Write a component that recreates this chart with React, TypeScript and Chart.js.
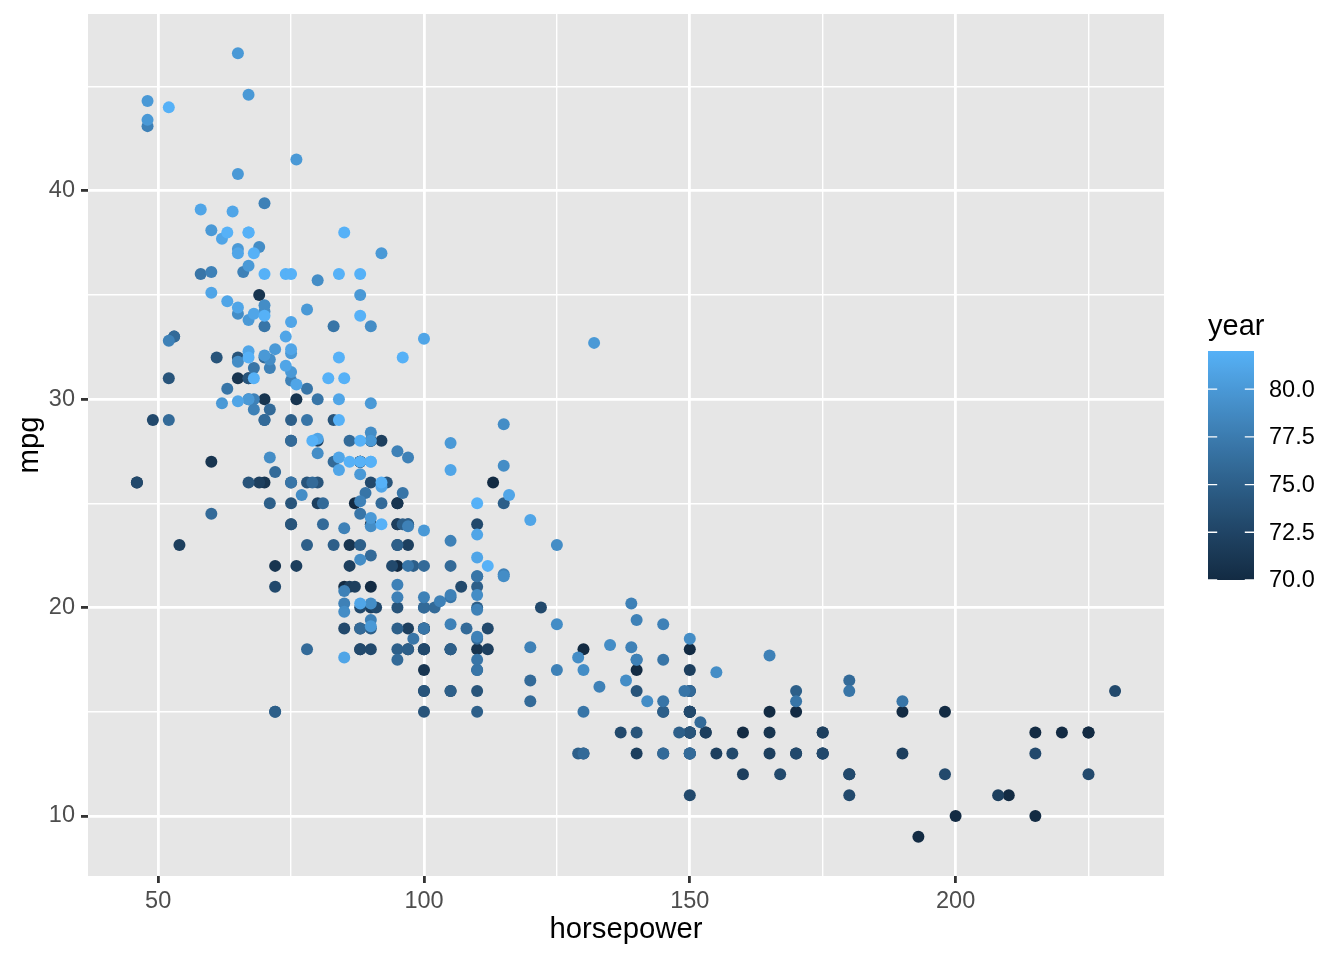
import React, { useEffect, useRef } from "react";
import { Chart, registerables } from "chart.js";

Chart.register(...registerables);

// ---- data: horsepower / mpg per model year ----
const hp70 = [130, 165, 150, 150, 140, 198, 220, 215, 225, 190, 170, 160, 150, 225, 95, 95, 97, 85, 88, 46, 87, 90, 95, 113, 90, 215, 200, 210, 193];
const mpg70 = [18, 15, 18, 16, 17, 15, 14, 14, 14, 15, 15, 14, 15, 14, 24, 22, 18, 21, 27, 26, 25, 24, 25, 26, 21, 10, 10, 11, 9];
const hp71 = [88, 90, 95, 100, 105, 100, 88, 100, 165, 175, 153, 150, 180, 170, 175, 110, 72, 100, 88, 86, 90, 70, 76, 65, 69, 60, 70];
const mpg71 = [27, 28, 25, 19, 16, 17, 19, 18, 14, 14, 14, 14, 12, 13, 13, 18, 22, 19, 18, 23, 28, 30, 30, 31, 35, 27, 26];
const hp72 = [95, 80, 54, 90, 86, 165, 175, 150, 153, 150, 208, 155, 160, 190, 97, 150, 130, 140, 150, 112, 76, 87, 69, 86, 92, 97, 80, 88];
const mpg72 = [24, 25, 23, 20, 21, 13, 14, 15, 14, 17, 11, 13, 12, 13, 19, 15, 13, 13, 14, 18, 22, 21, 26, 22, 28, 23, 28, 27];
const hp73 = [175, 150, 145, 137, 150, 198, 150, 158, 150, 215, 225, 175, 105, 100, 100, 88, 95, 46, 150, 167, 170, 180, 100, 88, 72, 94, 90, 85, 107, 90, 145, 230, 49, 75, 91, 112, 150, 110, 122, 180];
const mpg73 = [13, 14, 13, 14, 15, 12, 13, 13, 14, 13, 12, 13, 18, 16, 18, 18, 23, 26, 11, 12, 13, 12, 18, 20, 21, 22, 18, 19, 21, 26, 15, 16, 29, 24, 20, 19, 15, 24, 20, 11];
const hp74 = [95, 100, 100, 67, 80, 65, 75, 100, 110, 105, 140, 150, 150, 140, 150, 83, 67, 78, 52, 61, 75, 75, 75, 97, 93, 67];
const mpg74 = [20, 19, 15, 31, 26, 32, 25, 16, 16, 18, 16, 13, 14, 14, 14, 29, 26, 26, 31, 32, 28, 24, 26, 24, 26, 31];
const hp75 = [95, 105, 72, 72, 170, 145, 150, 148, 110, 105, 110, 95, 110, 110, 129, 75, 83, 100, 78, 96, 71, 97, 97, 70, 90, 95, 88, 98, 115, 53];
const mpg75 = [19, 18, 15, 15, 16, 15, 16, 14, 17, 16, 15, 18, 21, 20, 13, 29, 23, 20, 23, 24, 25, 24, 18, 29, 19, 23, 23, 22, 25, 33];
const hp76 = [100, 105, 81, 90, 52, 60, 70, 53, 100, 78, 110, 95, 71, 70, 75, 72, 102, 150, 88, 108, 120, 180, 145, 130, 150, 140, 150, 120, 152, 86, 81, 92, 79, 83];
const mpg76 = [22, 22, 24, 22.5, 29, 24.5, 29, 33, 20, 18, 18.5, 17.5, 29.5, 32, 28, 26.5, 20, 13, 19, 19, 16.5, 16.5, 13, 13, 13, 17.5, 16, 15.5, 14.5, 28, 25, 25, 26, 27];
const hp77 = [68, 80, 58, 96, 70, 145, 110, 145, 130, 110, 105, 100, 98, 180, 170, 190, 149, 78, 88, 75, 89, 63, 83, 67, 78, 97, 110, 110];
const mpg77 = [31.5, 30, 36, 25.5, 33.5, 17.5, 17, 15.5, 15, 17.5, 20.5, 19, 18.5, 16, 15.5, 15.5, 16, 29, 24.5, 26, 25.5, 30.5, 33.5, 30, 30.5, 22, 21.5, 21.5];
const hp78 = [48, 66, 52, 70, 60, 110, 140, 139, 105, 95, 85, 88, 100, 90, 105, 85, 110, 120, 145, 165, 139, 140, 68, 95, 97, 75, 95, 105, 85, 97, 103, 125, 115, 133, 71, 68];
const mpg78 = [43.1, 36.1, 32.8, 39.4, 36.1, 19.9, 19.4, 20.2, 19.2, 20.5, 20.2, 25.1, 20.5, 19.4, 20.6, 20.8, 18.6, 18.1, 19.2, 17.7, 18.1, 17.5, 30, 27.5, 27.2, 30.9, 21.1, 23.2, 23.8, 23.9, 20.3, 17, 21.6, 16.2, 31.5, 29.5];
const hp79 = [115, 85, 88, 90, 110, 130, 129, 138, 135, 155, 142, 125, 150, 71, 65, 80, 80, 77, 125, 71, 90, 70, 70, 65, 69, 90, 115, 115, 90];
const mpg79 = [21.5, 19.8, 22.3, 20.2, 20.6, 17, 17.6, 16.5, 18.2, 16.9, 15.5, 19.2, 18.5, 31.9, 34.1, 35.7, 27.4, 25.4, 23, 27.2, 23.9, 34.2, 34.5, 31.8, 37.3, 28.4, 28.8, 26.8, 33.5];
const hp80 = [76, 60, 70, 65, 90, 88, 90, 90, 78, 90, 75, 92, 75, 65, 105, 65, 48, 48, 67, 67, 67, 67, 62, 132, 100, 88, 72];
const mpg80 = [41.5, 38.1, 32.1, 37.2, 28, 26.4, 24.3, 19.1, 34.3, 29.8, 31.3, 37, 32.2, 46.6, 27.9, 40.8, 44.3, 43.4, 36.4, 30, 44.6, 33.8, 29.8, 32.7, 23.7, 35, 32.4];
const hp81 = [84, 84, 92, 110, 84, 58, 64, 60, 67, 65, 62, 68, 63, 65, 65, 74, 75, 75, 100, 74, 80, 76, 116, 120, 110, 105, 88, 85];
const mpg81 = [27.2, 26.6, 25.8, 23.5, 30, 39.1, 39, 35.1, 32.3, 37, 37.7, 34.1, 34.7, 34.4, 29.9, 33, 33.7, 32.4, 32.9, 31.6, 28.1, 30.7, 25.4, 24.2, 22.4, 26.6, 20.2, 17.6];
const hp82 = [88, 88, 88, 85, 84, 90, 92, 74, 68, 68, 63, 70, 88, 75, 70, 67, 67, 67, 110, 85, 92, 112, 96, 84, 90, 86, 52, 84, 79, 82];
const mpg82 = [28, 27, 34, 31, 29, 27, 24, 36, 37, 31, 38, 36, 36, 36, 34, 38, 32, 38, 25, 38, 26, 22, 32, 36, 27, 27, 44, 32, 28, 31];

const modelYears = [70, 71, 72, 73, 74, 75, 76, 77, 78, 79, 80, 81, 82];
const hpByYear = [hp70, hp71, hp72, hp73, hp74, hp75, hp76, hp77, hp78, hp79, hp80, hp81, hp82];
const mpgByYear = [mpg70, mpg71, mpg72, mpg73, mpg74, mpg75, mpg76, mpg77, mpg78, mpg79, mpg80, mpg81, mpg82];

const xMajorTicks = [50, 100, 150, 200];
const xMinorTicks = [75, 125, 175, 225];
const yMajorTicks = [10, 20, 30, 40];
const yMinorTicks = [15, 25, 35, 45];
const legendTicks = [70, 72.5, 75, 77.5, 80];
const yearLimits = [70, 82];

const X_LABEL = "horsepower";
const Y_LABEL = "mpg";
const LEGEND_TITLE = "year";

// ---- styling ----
const FONT = "'Liberation Sans', Arial, Helvetica, sans-serif";
const LOW = "#132B43";
const HIGH = "#56B1F7";
const W = 1344;
const H = 960;
const PANEL = { left: 88, top: 14, right: 1164, bottom: 876 };

// ---- Lab colour ramp (like ggplot2's scale_colour_gradient) ----
const Xn = 0.95047, Yn = 1.0, Zn = 1.08883;
function hexToRgb(h: string) {
  return [parseInt(h.slice(1, 3), 16), parseInt(h.slice(3, 5), 16), parseInt(h.slice(5, 7), 16)];
}
function toLin(c: number) {
  c /= 255;
  return c <= 0.04045 ? c / 12.92 : Math.pow((c + 0.055) / 1.055, 2.4);
}
function fromLin(c: number) {
  const v = c <= 0.0031308 ? 12.92 * c : 1.055 * Math.pow(c, 1 / 2.4) - 0.055;
  return Math.round(Math.min(1, Math.max(0, v)) * 255);
}
function rgbToLab(rgb: number[]) {
  const R = toLin(rgb[0]), G = toLin(rgb[1]), B = toLin(rgb[2]);
  const X = 0.4124564 * R + 0.3575761 * G + 0.1804375 * B;
  const Y = 0.2126729 * R + 0.7151522 * G + 0.072175 * B;
  const Z = 0.0193339 * R + 0.119192 * G + 0.9503041 * B;
  const e = 216 / 24389, k = 24389 / 27;
  const f = (t: number) => (t > e ? Math.cbrt(t) : (k * t + 16) / 116);
  const fx = f(X / Xn), fy = f(Y / Yn), fz = f(Z / Zn);
  return [116 * fy - 16, 500 * (fx - fy), 200 * (fy - fz)];
}
function labToHex(lab: number[]) {
  const e = 216 / 24389, k = 24389 / 27;
  const fy = (lab[0] + 16) / 116;
  const fx = fy + lab[1] / 500;
  const fz = fy - lab[2] / 200;
  const inv = (t: number) => (t * t * t > e ? t * t * t : (116 * t - 16) / k);
  const X = Xn * inv(fx), Y = Yn * (lab[0] > k * e ? fy * fy * fy : lab[0] / k), Z = Zn * inv(fz);
  const R = 3.2404542 * X - 1.5371385 * Y - 0.4985314 * Z;
  const G = -0.969266 * X + 1.8760108 * Y + 0.041556 * Z;
  const B = 0.0556434 * X - 0.2040259 * Y + 1.0572252 * Z;
  return `rgb(${fromLin(R)},${fromLin(G)},${fromLin(B)})`;
}
const labLow = rgbToLab(hexToRgb(LOW));
const labHigh = rgbToLab(hexToRgb(HIGH));
function rampColor(t: number) {
  const u = Math.min(1, Math.max(0, t));
  return labToHex([0, 1, 2].map((i) => labLow[i] + (labHigh[i] - labLow[i]) * u));
}
function yearColor(y: number) {
  return rampColor((y - yearLimits[0]) / (yearLimits[1] - yearLimits[0]));
}

const panelBg = {
  id: "panelBg",
  beforeDraw(chart: any) {
    const { ctx, chartArea } = chart;
    ctx.save();
    ctx.fillStyle = "#E6E6E6";
    ctx.fillRect(chartArea.left, chartArea.top, chartArea.right - chartArea.left, chartArea.bottom - chartArea.top);
    ctx.restore();
  },
};

const colorbarLegend = {
  id: "colorbarLegend",
  afterDraw(chart: any) {
    const ctx = chart.ctx;
    const barL = 1208, barR = 1254, barTop = 351, barBot = 580;
    const yOf = (v: number) => barBot - ((v - yearLimits[0]) / (yearLimits[1] - yearLimits[0])) * (barBot - barTop);
    ctx.save();
    ctx.fillStyle = "#000000";
    ctx.font = `29px ${FONT}`;
    ctx.textAlign = "left";
    ctx.textBaseline = "alphabetic";
    ctx.fillText(LEGEND_TITLE, barL, 335);
    const grad = ctx.createLinearGradient(0, barBot, 0, barTop);
    for (let i = 0; i <= 40; i++) grad.addColorStop(i / 40, rampColor(i / 40));
    ctx.fillStyle = grad;
    ctx.fillRect(barL, barTop, barR - barL, barBot - barTop);
    const tl = (barR - barL) / 5;
    ctx.strokeStyle = "#FFFFFF";
    ctx.lineWidth = 1.4;
    ctx.font = `23.5px ${FONT}`;
    ctx.textBaseline = "middle";
    legendTicks.forEach((v) => {
      const y = yOf(v);
      ctx.beginPath();
      ctx.moveTo(barL, y);
      ctx.lineTo(barL + tl, y);
      ctx.moveTo(barR - tl, y);
      ctx.lineTo(barR, y);
      ctx.stroke();
      ctx.fillStyle = "#000000";
      ctx.fillText(v.toFixed(1), 1269, y + 1);
    });
    ctx.restore();
  },
};

export default function App() {
  const ref = useRef<HTMLCanvasElement | null>(null);
  useEffect(() => {
    document.body.style.margin = "0";
    const points: { x: number; y: number }[] = [];
    const colors: string[] = [];
    modelYears.forEach((yr, gi) => {
      hpByYear[gi].forEach((h, i) => {
        points.push({ x: h, y: mpgByYear[gi][i] });
        colors.push(yearColor(yr));
      });
    });
    const allHp = points.map((p) => p.x);
    const allMpg = points.map((p) => p.y);
    const hpMin = Math.min(...allHp), hpMax = Math.max(...allHp);
    const mpgMin = Math.min(...allMpg), mpgMax = Math.max(...allMpg);
    const xPad = (hpMax - hpMin) * 0.05;
    const yPad = (mpgMax - mpgMin) * 0.05;

    const isMajor = (list: number[], v: number) => list.indexOf(v) >= 0;
    const gridFor = (major: number[]) => ({
      color: "#FFFFFF",
      lineWidth: (c: any) => (c.tick && isMajor(major, c.tick.value) ? 2.8 : 1.4),
      tickColor: (c: any) => (c.tick && isMajor(major, c.tick.value) ? "#333333" : "rgba(0,0,0,0)"),
      tickWidth: (c: any) => (c.tick && isMajor(major, c.tick.value) ? 2.8 : 0),
      tickLength: 7,
      drawTicks: true,
    });

    // force the plotting panel to its exact box
    const panelFix = {
      id: "panelFix",
      afterLayout(chart: any) {
        const ca = chart.chartArea;
        ca.left = PANEL.left;
        ca.right = PANEL.right;
        ca.top = PANEL.top;
        ca.bottom = PANEL.bottom;
        ca.width = PANEL.right - PANEL.left;
        ca.height = PANEL.bottom - PANEL.top;
        const xs = chart.scales.x;
        const ys = chart.scales.y;
        xs.left = PANEL.left;
        xs.right = PANEL.right;
        xs.width = PANEL.right - PANEL.left;
        xs.top = PANEL.bottom;
        xs.bottom = H;
        xs.height = H - PANEL.bottom;
        ys.top = PANEL.top;
        ys.bottom = PANEL.bottom;
        ys.height = PANEL.bottom - PANEL.top;
        ys.left = 0;
        ys.right = PANEL.left;
        ys.width = PANEL.left;
        xs.configure();
        ys.configure();
      },
    };

    const chart = new Chart(ref.current as HTMLCanvasElement, {
      type: "scatter",
      data: {
        datasets: [
          {
            data: points,
            pointBackgroundColor: colors,
            pointBorderWidth: 0,
            pointRadius: 6,
            pointHoverRadius: 6,
          } as any,
        ],
      },
      options: {
        animation: false,
        responsive: false,
        devicePixelRatio: 1,
        layout: { padding: { left: 0, top: PANEL.top, right: W - PANEL.right, bottom: 0 } },
        plugins: { legend: { display: false }, tooltip: { enabled: false } },
        scales: {
          x: {
            type: "linear",
            position: "bottom",
            min: hpMin - xPad,
            max: hpMax + xPad,
            afterBuildTicks: (s: any) => {
              s.ticks = [...xMajorTicks, ...xMinorTicks].sort((a, b) => a - b).map((v) => ({ value: v }));
            },
            afterFit: (s: any) => {
              s.height = H - PANEL.bottom;
            },
            ticks: {
              autoSkip: false,
              maxRotation: 0,
              padding: 4,
              color: "#4D4D4D",
              font: { family: FONT, size: 23.5 },
              callback: (v: any) => (isMajor(xMajorTicks, v) ? String(v) : ""),
            },
            grid: gridFor(xMajorTicks) as any,
            border: { display: false },
            title: {
              display: true,
              text: X_LABEL,
              color: "#000000",
              font: { family: FONT, size: 29.3 },
              padding: { top: 0, bottom: 13 },
            },
          },
          y: {
            type: "linear",
            position: "left",
            min: mpgMin - yPad,
            max: mpgMax + yPad,
            afterBuildTicks: (s: any) => {
              s.ticks = [...yMajorTicks, ...yMinorTicks].sort((a, b) => a - b).map((v) => ({ value: v }));
            },
            afterFit: (s: any) => {
              s.width = PANEL.left;
            },
            ticks: {
              autoSkip: false,
              padding: 6,
              color: "#4D4D4D",
              font: { family: FONT, size: 23.5 },
              callback: (v: any) => (isMajor(yMajorTicks, v) ? String(v) : ""),
            },
            grid: gridFor(yMajorTicks) as any,
            border: { display: false },
            title: {
              display: true,
              text: Y_LABEL,
              color: "#000000",
              font: { family: FONT, size: 29.3 },
              padding: { top: 12, bottom: 0 },
            },
          },
        },
      },
      plugins: [panelFix, panelBg, colorbarLegend],
    });
    return () => chart.destroy();
  }, []);

  return (
    <div style={{ position: "absolute", left: 0, top: 0, width: W, height: H, background: "#FFFFFF", overflow: "hidden" }}>
      <canvas ref={ref} width={W} height={H} style={{ display: "block", width: W, height: H }} />
    </div>
  );
}
